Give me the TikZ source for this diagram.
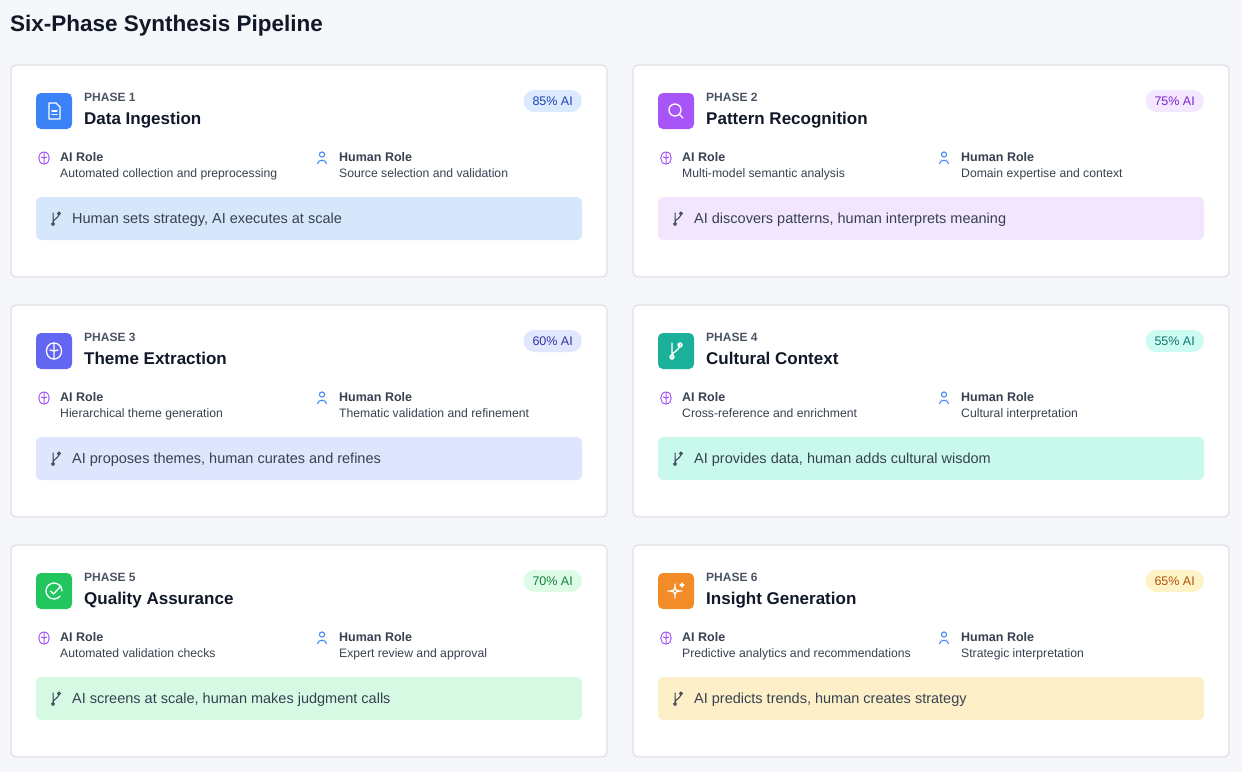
\documentclass[tikz,border=0pt]{standalone}
\usepackage{fontspec}
\setmainfont{Liberation Sans}
\definecolor{bg}{HTML}{F5F7FA}
\definecolor{cardline}{HTML}{DDE1E6}
\definecolor{dark}{HTML}{111827}
\definecolor{grey}{HTML}{4B5563}
\definecolor{txt}{HTML}{374151}
\definecolor{brainc}{HTML}{A855F7}
\definecolor{userc}{HTML}{3B82F6}
\begin{document}
\begin{tikzpicture}[x=1pt,y=-1pt,
  card/.style={draw=cardline,line width=1.2pt,fill=white,rounded corners=5pt},
  phase/.style={anchor=base west,font=\fontsize{12}{13}\selectfont\bfseries,text=grey,inner sep=0},
  ttl/.style={anchor=base west,font=\fontsize{17}{18}\selectfont\bfseries,text=dark,inner sep=0},
  rolet/.style={anchor=base west,font=\fontsize{12.5}{13}\selectfont\bfseries,text=txt,inner sep=0},
  roled/.style={anchor=base west,font=\fontsize{12.2}{13}\selectfont,text=txt,inner sep=0},
  bant/.style={anchor=base west,font=\fontsize{14.5}{15}\selectfont,text=txt,inner sep=0},
  badge/.style={rounded corners=11pt,minimum height=22pt,inner xsep=9pt,anchor=east,font=\fontsize{12.5}{13}\selectfont}]
\useasboundingbox (0,0) rectangle (1242,772);
\fill[bg] (0,0) rectangle (1242,772);
\node[anchor=base west,font=\fontsize{22.5}{24}\selectfont\bfseries,text=dark,inner sep=0] (title) at (10,31) {Six-Phase Synthesis Pipeline};
\newcommand\phasecard[2]{\begin{scope}[shift={(#1,#2)}]\phasecardinner}
\newcommand\phasecardinner[6]{%
  \draw[card] (0,0) rectangle (596,212);
  \fill[#3,rounded corners=5pt] (25,28) rectangle (61,64);
  \begin{scope}[shift={(43,46)},draw=white,line width=1.3pt,line cap=round,line join=round]#6\end{scope}
  \node[phase] at (73,36) {PHASE #1};
  \node[ttl] at (73,59) {#2};
  \node[badge,fill=#4,text=#5] at (571,36) {\phasebadge};
  \begin{scope}[shift={(33,93)},draw=brainc,line width=1pt]
    \draw (0,-6) .. controls (-7,-6) and (-7,6) .. (0,6) .. controls (7,6) and (7,-6) .. (0,-6);
    \draw (0,-6) -- (0,6) (-3,-1) -- (0,0) -- (3,-1);
  \end{scope}
  \begin{scope}[shift={(311,93)},draw=userc,line width=1pt]
    \draw (0,-3.5) circle (2.6pt);
    \draw (-4.5,6) .. controls (-4.5,1) and (4.5,1) .. (4.5,6);
  \end{scope}
  \node[rolet] at (49,96) {AI Role};
  \node[roled] at (49,112) {\phaseai};
  \node[rolet] at (328,96) {Human Role};
  \node[roled] at (328,112) {\phasehuman};
  \fill[\phasebanbg,rounded corners=5pt] (25,132) rectangle (571,175);
  \begin{scope}[shift={(45,153.5)},draw=txt,line width=1pt]
    \draw (-3,-6) -- (-3,6) (3,-6) .. controls (3,1) and (-3,0) .. (-3,4);
    \draw (-3,5.5) circle (1.5pt) (3,-5) circle (1.5pt);
  \end{scope}
  \node[bant] at (61,158.5) {\phasebanner};
  \end{scope}}
% Phase 1
\def\phasebadge{85\% AI}\def\phaseai{Automated collection and preprocessing}\def\phasehuman{Source selection and validation}\def\phasebanner{Human sets strategy, AI executes at scale}\definecolor{bb}{HTML}{D6E6FB}\def\phasebanbg{bb}
\definecolor{ic1}{HTML}{3B82F6}\definecolor{bg1}{HTML}{DBEAFE}\definecolor{fg1}{HTML}{1E40AF}
\phasecard{11}{65}{1}{Data Ingestion}{ic1}{bg1}{fg1}{\draw (-5,-8) -- (2,-8) -- (6,-4) -- (6,8) -- (-5,8) -- cycle; \draw (-2,0) -- (3,0) (-2,3.5) -- (3,3.5);}
% Phase 2
\def\phasebadge{75\% AI}\def\phaseai{Multi-model semantic analysis}\def\phasehuman{Domain expertise and context}\def\phasebanner{AI discovers patterns, human interprets meaning}\definecolor{bb}{HTML}{F1E6FD}
\definecolor{ic2}{HTML}{A855F7}\definecolor{bg2}{HTML}{F3E8FF}\definecolor{fg2}{HTML}{7E22CE}
\phasecard{633}{65}{2}{Pattern Recognition}{ic2}{bg2}{fg2}{\draw (-1,-1) circle (6pt); \draw (3.5,3.5) -- (7,7);}
% Phase 3
\def\phasebadge{60\% AI}\def\phaseai{Hierarchical theme generation}\def\phasehuman{Thematic validation and refinement}\def\phasebanner{AI proposes themes, human curates and refines}\definecolor{bb}{HTML}{DFE5FC}
\definecolor{ic3}{HTML}{6366F1}\definecolor{bg3}{HTML}{E0E7FF}\definecolor{fg3}{HTML}{3730A3}
\phasecard{11}{305}{3}{Theme Extraction}{ic3}{bg3}{fg3}{\draw (0,-8) .. controls (-10,-8) and (-10,8) .. (0,8) .. controls (10,8) and (10,-8) .. (0,-8); \draw (0,-8) -- (0,8) (-4,-1) -- (0,0) -- (4,-1);}
% Phase 4
\def\phasebadge{55\% AI}\def\phaseai{Cross-reference and enrichment}\def\phasehuman{Cultural interpretation}\def\phasebanner{AI provides data, human adds cultural wisdom}\definecolor{bb}{HTML}{C9F8EC}
\definecolor{ic4}{HTML}{1AB09A}\definecolor{bg4}{HTML}{CCFBF1}\definecolor{fg4}{HTML}{0F766E}
\phasecard{633}{305}{4}{Cultural Context}{ic4}{bg4}{fg4}{\draw (-4,-8) -- (-4,8) (4,-8) .. controls (4,1) and (-4,0) .. (-4,5); \draw (-4,6) circle (2pt) (4,-6) circle (2pt);}
% Phase 5
\def\phasebadge{70\% AI}\def\phaseai{Automated validation checks}\def\phasehuman{Expert review and approval}\def\phasebanner{AI screens at scale, human makes judgment calls}\definecolor{bb}{HTML}{D5F9E3}
\definecolor{ic5}{HTML}{22C55E}\definecolor{bg5}{HTML}{DCFCE7}\definecolor{fg5}{HTML}{15803D}
\phasecard{11}{545}{5}{Quality Assurance}{ic5}{bg5}{fg5}{\draw (8,0) arc (0:320:8pt); \draw (-3.5,0) -- (-0.5,3) -- (7,-5);}
% Phase 6
\def\phasebadge{65\% AI}\def\phaseai{Predictive analytics and recommendations}\def\phasehuman{Strategic interpretation}\def\phasebanner{AI predicts trends, human creates strategy}\definecolor{bb}{HTML}{FDF0C8}
\definecolor{ic6}{HTML}{F28C28}\definecolor{bg6}{HTML}{FEF3C7}\definecolor{fg6}{HTML}{B45309}
\phasecard{633}{545}{6}{Insight Generation}{ic6}{bg6}{fg6}{\draw (-1,-7) .. controls (-1,-1) and (-1,0) .. (-8,0) .. controls (-1,0) and (-1,1) .. (-1,7) .. controls (-1,1) and (-1,0) .. (6,0) .. controls (-1,0) and (-1,-1) .. (-1,-7); \draw (6,-8) -- (6,-4) (4,-6) -- (8,-6);}
\end{tikzpicture}
\end{document}
